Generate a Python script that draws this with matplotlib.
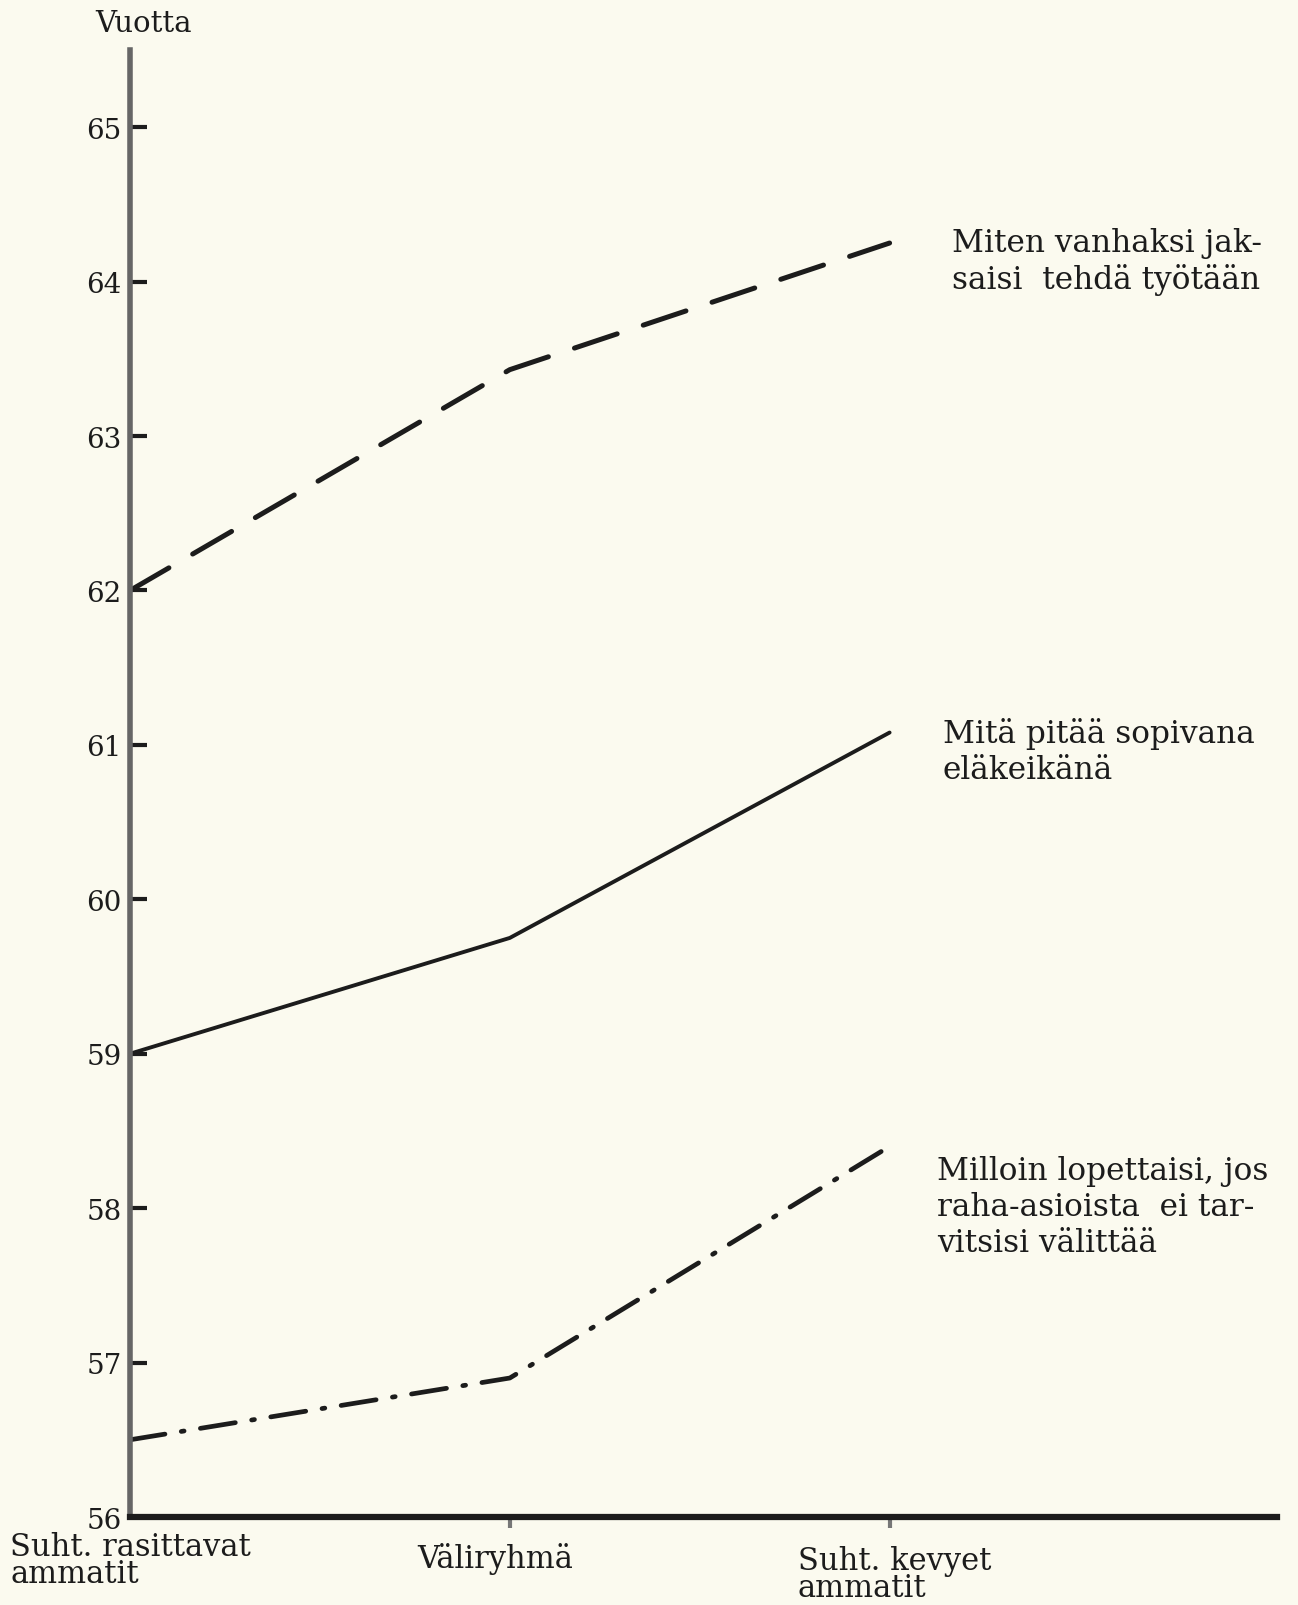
import matplotlib.pyplot as plt

# ryhmät (x-akseli) ja keskiarvot vuosina
categories = ["Suht. rasittavat\nammatit", "Väliryhmä", "Suht. kevyet\nammatit"]
x = [0, 1, 2]
vanhaksi = [62.0, 63.43, 64.25]      # Miten vanhaksi jaksaisi tehdä työtään
sopiva = [59.0, 59.75, 61.08]        # Mitä pitää sopivana eläkeikänä
lopettaisi = [56.5, 56.9, 58.4]      # Milloin lopettaisi ...
y_ticks = list(range(56, 66))

series_labels = [
    "Miten vanhaksi jak-\nsaisi  tehdä työtään",
    "Mitä pitää sopivana\neläkeikänä",
    "Milloin lopettaisi, jos\nraha-asioista  ei tar-\nvitsisi välittää",
]

plt.rcParams['font.family'] = 'DejaVu Serif'
ink = '#1c1c1c'
paper = '#fbfaef'
W, H = 1298, 1606

fig = plt.figure(figsize=(W / 100, H / 100), dpi=100, facecolor=paper)
ax = fig.add_axes([130 / W, 1 - 1518 / H, 1147 / W, 1467 / H])
ax.set_facecolor(paper)

ax.plot(x, vanhaksi, color=ink, lw=3.6, linestyle=(0, (9, 5.5)),
        dash_capstyle='round')
ax.plot(x, sopiva, color=ink, lw=2.8, solid_capstyle='round')
ax.plot(x, lopettaisi, color=ink, lw=3.4, linestyle=(0, (7.5, 3.5, 0.6, 3.5)),
        dash_capstyle='round')

ax.set_xlim(0, 3.02)
ax.set_ylim(56, 65.5)

for s in ['top', 'right']:
    ax.spines[s].set_visible(False)
ax.spines['left'].set_color('#666666')
ax.spines['left'].set_linewidth(4)
ax.spines['bottom'].set_color(ink)
ax.spines['bottom'].set_linewidth(4.5)

ax.set_yticks(y_ticks)
ax.set_yticklabels([str(t) for t in y_ticks])
ax.tick_params(axis='y', direction='in', length=12, width=3, color=ink,
               labelsize=20, pad=6, labelcolor=ink)
ax.set_xticks([1, 2])
ax.set_xticklabels([])
ax.tick_params(axis='x', direction='out', length=8, width=3, color='#777777')

# ryhmien nimet akselin alle
offsets = [(-120, -14), (-93, -25), (-92, -28)]
for i, (cat, off) in enumerate(zip(categories, offsets)):
    ax.annotate(cat, xy=(x[i], 0), xycoords=('data', 'axes fraction'),
                xytext=off, textcoords='offset pixels', ha='left',
                va='top', fontsize=22, color=ink, linespacing=0.85,
                annotation_clip=False)

fig.text(95 / W, 1 - 32 / H, "Vuotta", fontsize=21, color=ink, va='baseline')

label_pos = [(952, 228), (943, 718), (937, 1156)]
for txt, (px, py) in zip(series_labels, label_pos):
    fig.text(px / W, 1 - py / H, txt, fontsize=22.5, color=ink, va='top',
             ha='left', linespacing=1.2)

fig.savefig('out.png', dpi=100, facecolor=paper)
